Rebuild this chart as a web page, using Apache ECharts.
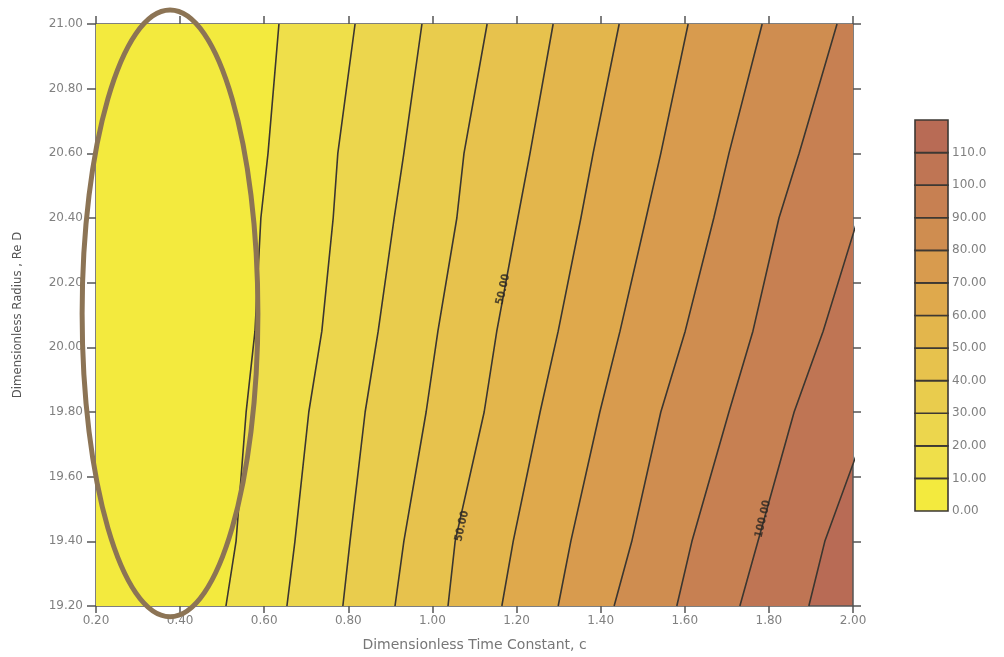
<!DOCTYPE html>
<html>
<head>
<meta charset="utf-8">
<script src="https://cdn.jsdelivr.net/npm/echarts@6/dist/echarts.min.js"></script>
<style>
  html, body { margin: 0; padding: 0; background: #fff; }
  #chart { width: 1004px; height: 657px; }
</style>
</head>
<body>
<div id="chart"></div>
<script>
// rows (Dimensionless Radius) where contour positions were read
var rowsY = [19.2, 19.4, 19.8, 20.05, 20.4, 20.6, 21.0]
// contour levels and x position (Dimensionless Time Constant) of each line at rowsY
var levels = [10, 20, 30, 40, 50, 60, 70, 80, 90, 100, 110]
var line10 = [0.509, 0.533, 0.557, 0.578, 0.592, 0.609, 0.635]
var line20 = [0.654, 0.673, 0.706, 0.737, 0.764, 0.775, 0.816]
var line30 = [0.787, 0.804, 0.840, 0.871, 0.909, 0.932, 0.975]
var line40 = [0.911, 0.932, 0.985, 1.013, 1.058, 1.075, 1.130]
var line50 = [1.037, 1.054, 1.123, 1.153, 1.203, 1.232, 1.287]
var line60 = [1.165, 1.192, 1.256, 1.299, 1.353, 1.382, 1.444]
var line70 = [1.299, 1.329, 1.398, 1.446, 1.508, 1.543, 1.608]
var line80 = [1.432, 1.474, 1.543, 1.601, 1.669, 1.705, 1.784]
var line90 = [1.581, 1.617, 1.705, 1.762, 1.824, 1.872, 1.962]
var line100 = [1.731, 1.774, 1.860, 1.929, 2.012, 2.062, 2.174]
var line110 = [1.895, 1.933, 2.045, 2.112, 2.195, 2.242, 2.350]
var contourX = [line10, line20, line30, line40, line50, line60, line70, line80, line90, line100, line110]
// colour bar bands (lower bound of each band)
var bandLows = [0, 10, 20, 30, 40, 50, 60, 70, 80, 90, 100, 110]
// inline contour labels [x, y, text]
var contourLabels = [[1.168, 20.179, '50.00'], [1.070, 19.447, '50.00'], [1.786, 19.469, '100.00']]
// highlighted region drawn on the plot
var highlight = { cx: 0.376, cy: 20.105, rx: 0.209, ry: 0.938 }

var xTicks = { min: 0.2, max: 2.0, interval: 0.2 }
var yTicks = { min: 19.2, max: 21.0, interval: 0.2 }

var bandColors = ['#f3ea3e', '#efdf4a', '#ecd64d', '#e9cc4d', '#e7c24d', '#e3b64c',
  '#dfa94c', '#d89b4e', '#cf8d50', '#c78052', '#bf7554', '#b86b55']
var lineColor = '#3b3630'
var labelColor = '#808080'
var axisColor = '#555'

var chart = echarts.init(document.getElementById('chart'))

var series = []

// filled bands: paint region left of each contour, highest level first
series.push({
  type: 'custom',
  xAxisIndex: 0,
  yAxisIndex: 0,
  clip: true,
  silent: true,
  z: 1,
  data: levels.map(function(v, i) { return [levels.length - 1 - i] }),
  renderItem: function(params, api) {
    var k = api.value(0)
    var pts = []
    for (var r = 0; r < rowsY.length; r++) {
      pts.push(api.coord([contourX[k][r], rowsY[r]]))
    }
    pts.push(api.coord([xTicks.min, yTicks.max]))
    pts.push(api.coord([xTicks.min, yTicks.min]))
    return {
      type: 'polygon',
      shape: { points: pts },
      style: { fill: bandColors[k], stroke: null }
    }
  }
})

for (var k = 0; k < levels.length; k++) {
  series.push({
    type: 'line',
    name: String(levels[k]),
    xAxisIndex: 0,
    yAxisIndex: 0,
    silent: true,
    symbol: 'none',
    z: 3,
    lineStyle: { color: lineColor, width: 1.6 },
    data: rowsY.map(function(y, r) { return [contourX[k][r], y] })
  })
}

series.push({
  type: 'scatter',
  xAxisIndex: 0,
  yAxisIndex: 0,
  silent: true,
  symbolSize: 0,
  z: 5,
  data: contourLabels,
  label: {
    show: true,
    position: 'inside',
    rotate: 77,
    formatter: function(p) { return p.value[2] },
    fontSize: 11,
    fontWeight: 'bold',
    fontFamily: 'Liberation Sans Narrow, DejaVu Sans Condensed, sans-serif',
    color: '#2a2622'
  }
})

series.push({
  type: 'custom',
  xAxisIndex: 0,
  yAxisIndex: 0,
  clip: false,
  silent: true,
  z: 10,
  data: [[highlight.cx, highlight.cy, highlight.rx, highlight.ry]],
  renderItem: function(params, api) {
    var c = api.coord([api.value(0), api.value(1)])
    var s = api.size([api.value(2), api.value(3)])
    return {
      type: 'ellipse',
      shape: { cx: c[0], cy: c[1], rx: s[0], ry: s[1] },
      style: { fill: null, stroke: '#8c7455', lineWidth: 5 }
    }
  }
})

// colour bar
series.push({
  type: 'custom',
  xAxisIndex: 2,
  yAxisIndex: 2,
  silent: true,
  data: bandLows.map(function(v) { return [v] }),
  renderItem: function(params, api) {
    var lo = api.value(0)
    var p0 = api.coord([0, lo + 10])
    var p1 = api.coord([1, lo])
    return {
      type: 'rect',
      shape: { x: p0[0], y: p0[1], width: p1[0] - p0[0], height: p1[1] - p0[1] },
      style: { fill: bandColors[params.dataIndex], stroke: '#3d3833', lineWidth: 1.6 }
    }
  }
})

var tickFont = { color: labelColor, fontSize: 12, fontFamily: 'DejaVu Sans' }

chart.setOption({
  animation: false,
  backgroundColor: '#fff',
  grid: [
    { left: 96, right: 151, top: 24, bottom: 50, show: true, backgroundColor: bandColors[11], borderWidth: 0 },
    { left: 915, top: 120, width: 33, height: 391 }
  ],
  xAxis: [
    {
      type: 'value', gridIndex: 0, min: xTicks.min, max: xTicks.max, interval: xTicks.interval,
      name: 'Dimensionless Time Constant, c',
      nameLocation: 'middle',
      nameGap: 32,
      nameTextStyle: { color: '#777', fontSize: 14, fontFamily: 'DejaVu Sans' },
      axisLine: { onZero: false, lineStyle: { color: axisColor, width: 1.5 } },
      axisTick: { inside: false, length: 7, lineStyle: { color: axisColor, width: 1.5 } },
      axisLabel: Object.assign({ margin: 9, formatter: function(v) { return v.toFixed(2) } }, tickFont),
      splitLine: { show: false }
    },
    {
      type: 'value', gridIndex: 0, position: 'top', min: xTicks.min, max: xTicks.max, interval: xTicks.interval,
      axisLine: { onZero: false, lineStyle: { color: axisColor, width: 1.5 } },
      axisTick: { inside: false, length: 8, lineStyle: { color: axisColor, width: 1.5 } },
      axisLabel: { show: false },
      splitLine: { show: false }
    },
    { type: 'value', gridIndex: 1, min: 0, max: 1, show: false }
  ],
  yAxis: [
    {
      type: 'value', gridIndex: 0, min: yTicks.min, max: yTicks.max, interval: yTicks.interval,
      name: 'Dimensionless Radius , Re D',
      nameLocation: 'middle',
      nameGap: 72,
      nameTextStyle: { color: '#555', fontSize: 13, fontFamily: 'Liberation Sans Narrow, DejaVu Sans Condensed, sans-serif' },
      axisLine: { onZero: false, lineStyle: { color: axisColor, width: 1.5 } },
      axisTick: { inside: false, length: 9, lineStyle: { color: axisColor, width: 1.5 } },
      axisLabel: Object.assign({ margin: 13, formatter: function(v) { return v.toFixed(2) } }, tickFont),
      splitLine: { show: false }
    },
    {
      type: 'value', gridIndex: 0, position: 'right', min: yTicks.min, max: yTicks.max, interval: yTicks.interval,
      axisLine: { onZero: false, lineStyle: { color: axisColor, width: 1.5 } },
      axisTick: { inside: false, length: 8, lineStyle: { color: axisColor, width: 1.5 } },
      axisLabel: { show: false },
      splitLine: { show: false }
    },
    {
      type: 'value', gridIndex: 1, position: 'right', min: 0, max: 120, interval: 10,
      axisLine: { show: false },
      axisTick: { show: false },
      splitLine: { show: false },
      axisLabel: Object.assign({
        margin: 4,
        formatter: function(v) { return v >= 120 ? '' : (v >= 100 ? v.toFixed(1) : v.toFixed(2)) }
      }, tickFont)
    }
  ],
  series: series
})
</script>
</body>
</html>
